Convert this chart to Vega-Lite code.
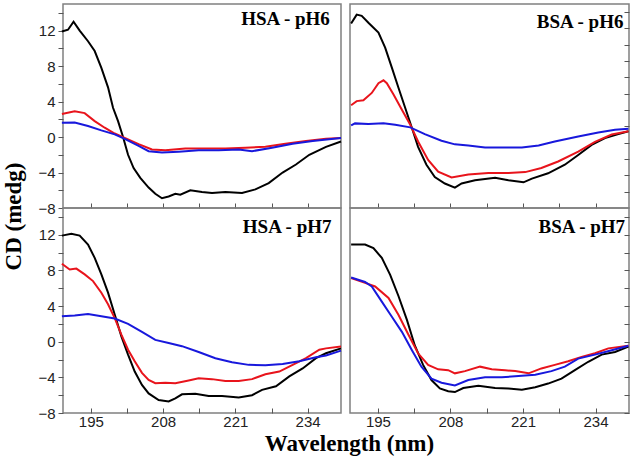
{
  "$schema": "https://vega.github.io/schema/vega-lite/v6.json",
  "padding": {"left": 2, "top": 3, "right": 6, "bottom": 1},
  "bounds": "flush",
  "columns": 2,
  "spacing": {"row": 0, "column": 9},
  "config": {
    "view": {"stroke": "#808080", "strokeWidth": 1.5},
    "axis": {"labelFont": "Liberation Sans", "labelFontSize": 15, "labelColor": "#222", "tickColor": "#555", "domain": false, "grid": false,
             "titleFont": "Liberation Serif", "titleFontSize": 23, "titleFontWeight": "bold", "titleColor": "#000"}
  },
  "datasets": {
    "tl": [
      {"s": "a", "w": 189.8, "cd": 11.9}, {"s": "a", "w": 190.9, "cd": 12.1}, {"s": "a", "w": 191.9, "cd": 13.0}, {"s": "a", "w": 193.0, "cd": 12.0},
      {"s": "a", "w": 194.5, "cd": 10.8}, {"s": "a", "w": 195.7, "cd": 9.7}, {"s": "a", "w": 196.9, "cd": 7.8}, {"s": "a", "w": 198.1, "cd": 5.6},
      {"s": "a", "w": 199.0, "cd": 3.3}, {"s": "a", "w": 199.9, "cd": 1.8}, {"s": "a", "w": 200.8, "cd": 0.0}, {"s": "a", "w": 201.7, "cd": -2.0},
      {"s": "a", "w": 202.7, "cd": -3.5}, {"s": "a", "w": 203.9, "cd": -4.6}, {"s": "a", "w": 205.4, "cd": -5.7}, {"s": "a", "w": 206.6, "cd": -6.4},
      {"s": "a", "w": 207.8, "cd": -6.9}, {"s": "a", "w": 209.0, "cd": -6.7}, {"s": "a", "w": 210.2, "cd": -6.4}, {"s": "a", "w": 211.1, "cd": -6.5},
      {"s": "a", "w": 212.9, "cd": -6.0}, {"s": "a", "w": 215.0, "cd": -6.2}, {"s": "a", "w": 216.8, "cd": -6.3}, {"s": "a", "w": 219.2, "cd": -6.2},
      {"s": "a", "w": 222.2, "cd": -6.3}, {"s": "a", "w": 224.6, "cd": -5.9}, {"s": "a", "w": 227.0, "cd": -5.2}, {"s": "a", "w": 229.5, "cd": -4.0},
      {"s": "a", "w": 231.9, "cd": -3.1}, {"s": "a", "w": 234.3, "cd": -2.0}, {"s": "a", "w": 237.3, "cd": -1.1}, {"s": "a", "w": 240.0, "cd": -0.5},
      {"s": "b", "w": 189.8, "cd": 2.6}, {"s": "b", "w": 192.1, "cd": 2.9}, {"s": "b", "w": 193.9, "cd": 2.7}, {"s": "b", "w": 195.7, "cd": 1.8},
      {"s": "b", "w": 197.5, "cd": 1.05}, {"s": "b", "w": 199.3, "cd": 0.4}, {"s": "b", "w": 201.1, "cd": -0.1}, {"s": "b", "w": 203.6, "cd": -0.8},
      {"s": "b", "w": 206.0, "cd": -1.4}, {"s": "b", "w": 208.4, "cd": -1.5}, {"s": "b", "w": 212.0, "cd": -1.3}, {"s": "b", "w": 215.6, "cd": -1.3},
      {"s": "b", "w": 219.2, "cd": -1.3}, {"s": "b", "w": 222.8, "cd": -1.2}, {"s": "b", "w": 226.4, "cd": -1.1}, {"s": "b", "w": 230.0, "cd": -0.75},
      {"s": "b", "w": 233.7, "cd": -0.45}, {"s": "b", "w": 237.3, "cd": -0.2}, {"s": "b", "w": 240.0, "cd": -0.1},
      {"s": "c", "w": 189.8, "cd": 1.6}, {"s": "c", "w": 192.1, "cd": 1.65}, {"s": "c", "w": 194.5, "cd": 1.25}, {"s": "c", "w": 196.9, "cd": 0.75},
      {"s": "c", "w": 199.3, "cd": 0.3}, {"s": "c", "w": 201.1, "cd": -0.2}, {"s": "c", "w": 203.6, "cd": -1.0}, {"s": "c", "w": 205.4, "cd": -1.6},
      {"s": "c", "w": 207.8, "cd": -1.75}, {"s": "c", "w": 210.8, "cd": -1.65}, {"s": "c", "w": 214.4, "cd": -1.5}, {"s": "c", "w": 218.0, "cd": -1.5},
      {"s": "c", "w": 221.6, "cd": -1.4}, {"s": "c", "w": 224.0, "cd": -1.6}, {"s": "c", "w": 227.6, "cd": -1.2}, {"s": "c", "w": 231.3, "cd": -0.75},
      {"s": "c", "w": 234.9, "cd": -0.45}, {"s": "c", "w": 240.0, "cd": -0.1}
    ],
    "tr": [
      {"s": "a", "w": 190.2, "cd": 12.6}, {"s": "a", "w": 191.2, "cd": 13.7}, {"s": "a", "w": 192.1, "cd": 13.55}, {"s": "a", "w": 193.3, "cd": 12.7},
      {"s": "a", "w": 195.1, "cd": 11.5}, {"s": "a", "w": 196.3, "cd": 9.65}, {"s": "a", "w": 197.5, "cd": 7.2}, {"s": "a", "w": 198.7, "cd": 4.7},
      {"s": "a", "w": 199.9, "cd": 2.25}, {"s": "a", "w": 201.1, "cd": -0.2}, {"s": "a", "w": 202.2, "cd": -2.5}, {"s": "a", "w": 203.7, "cd": -4.7},
      {"s": "a", "w": 205.2, "cd": -6.2}, {"s": "a", "w": 207.0, "cd": -7.0}, {"s": "a", "w": 208.8, "cd": -7.5}, {"s": "a", "w": 210.0, "cd": -7.0},
      {"s": "a", "w": 212.4, "cd": -6.6}, {"s": "a", "w": 216.0, "cd": -6.3}, {"s": "a", "w": 218.4, "cd": -6.6}, {"s": "a", "w": 221.1, "cd": -6.85},
      {"s": "a", "w": 222.6, "cd": -6.4}, {"s": "a", "w": 225.5, "cd": -5.75}, {"s": "a", "w": 228.5, "cd": -4.7}, {"s": "a", "w": 230.9, "cd": -3.5},
      {"s": "a", "w": 233.3, "cd": -2.26}, {"s": "a", "w": 235.7, "cd": -1.44}, {"s": "a", "w": 238.1, "cd": -0.95}, {"s": "a", "w": 239.9, "cd": -0.6},
      {"s": "b", "w": 190.2, "cd": 2.6}, {"s": "b", "w": 191.2, "cd": 3.1}, {"s": "b", "w": 192.4, "cd": 3.2}, {"s": "b", "w": 193.9, "cd": 4.1},
      {"s": "b", "w": 195.1, "cd": 5.3}, {"s": "b", "w": 196.0, "cd": 5.65}, {"s": "b", "w": 196.6, "cd": 5.3}, {"s": "b", "w": 197.8, "cd": 3.9},
      {"s": "b", "w": 199.3, "cd": 2.05}, {"s": "b", "w": 200.8, "cd": 0.2}, {"s": "b", "w": 202.2, "cd": -1.85}, {"s": "b", "w": 204.0, "cd": -4.1},
      {"s": "b", "w": 205.8, "cd": -5.55}, {"s": "b", "w": 208.2, "cd": -6.25}, {"s": "b", "w": 211.2, "cd": -5.9}, {"s": "b", "w": 214.8, "cd": -5.7},
      {"s": "b", "w": 218.4, "cd": -5.7}, {"s": "b", "w": 221.4, "cd": -5.6}, {"s": "b", "w": 224.3, "cd": -5.1}, {"s": "b", "w": 227.3, "cd": -4.3},
      {"s": "b", "w": 230.9, "cd": -3.1}, {"s": "b", "w": 233.9, "cd": -1.9}, {"s": "b", "w": 236.9, "cd": -1.0}, {"s": "b", "w": 239.9, "cd": -0.6},
      {"s": "c", "w": 190.2, "cd": 0.12}, {"s": "c", "w": 190.9, "cd": 0.37}, {"s": "c", "w": 193.3, "cd": 0.3}, {"s": "c", "w": 196.0, "cd": 0.4},
      {"s": "c", "w": 198.1, "cd": 0.2}, {"s": "c", "w": 200.8, "cd": -0.12}, {"s": "c", "w": 203.4, "cd": -0.95}, {"s": "c", "w": 206.4, "cd": -1.75},
      {"s": "c", "w": 208.8, "cd": -2.2}, {"s": "c", "w": 211.2, "cd": -2.35}, {"s": "c", "w": 214.2, "cd": -2.6}, {"s": "c", "w": 217.2, "cd": -2.6},
      {"s": "c", "w": 220.8, "cd": -2.6}, {"s": "c", "w": 223.8, "cd": -2.35}, {"s": "c", "w": 226.7, "cd": -1.85}, {"s": "c", "w": 230.9, "cd": -1.25},
      {"s": "c", "w": 234.5, "cd": -0.75}, {"s": "c", "w": 237.5, "cd": -0.4}, {"s": "c", "w": 239.9, "cd": -0.3}
    ],
    "bl": [
      {"s": "a", "w": 189.8, "cd": 11.9}, {"s": "a", "w": 191.5, "cd": 12.1}, {"s": "a", "w": 193.0, "cd": 11.9}, {"s": "a", "w": 194.5, "cd": 10.9},
      {"s": "a", "w": 195.7, "cd": 9.4}, {"s": "a", "w": 196.9, "cd": 7.55}, {"s": "a", "w": 198.1, "cd": 5.5}, {"s": "a", "w": 199.3, "cd": 3.05},
      {"s": "a", "w": 200.5, "cd": 0.6}, {"s": "a", "w": 201.7, "cd": -1.45}, {"s": "a", "w": 202.9, "cd": -3.35}, {"s": "a", "w": 204.2, "cd": -4.85},
      {"s": "a", "w": 205.4, "cd": -5.8}, {"s": "a", "w": 207.2, "cd": -6.55}, {"s": "a", "w": 209.0, "cd": -6.7}, {"s": "a", "w": 210.2, "cd": -6.35},
      {"s": "a", "w": 211.4, "cd": -5.9}, {"s": "a", "w": 213.8, "cd": -5.85}, {"s": "a", "w": 216.2, "cd": -6.1}, {"s": "a", "w": 218.6, "cd": -6.1},
      {"s": "a", "w": 221.6, "cd": -6.25}, {"s": "a", "w": 224.0, "cd": -6.0}, {"s": "a", "w": 225.8, "cd": -5.4}, {"s": "a", "w": 228.3, "cd": -5.0},
      {"s": "a", "w": 230.7, "cd": -3.9}, {"s": "a", "w": 233.1, "cd": -3.0}, {"s": "a", "w": 235.5, "cd": -1.85}, {"s": "a", "w": 237.3, "cd": -1.3},
      {"s": "a", "w": 240.0, "cd": -0.75},
      {"s": "b", "w": 189.8, "cd": 8.75}, {"s": "b", "w": 191.2, "cd": 8.1}, {"s": "b", "w": 192.4, "cd": 8.2}, {"s": "b", "w": 193.9, "cd": 7.55},
      {"s": "b", "w": 195.4, "cd": 6.8}, {"s": "b", "w": 196.9, "cd": 5.5}, {"s": "b", "w": 198.1, "cd": 4.2}, {"s": "b", "w": 199.3, "cd": 2.65},
      {"s": "b", "w": 200.5, "cd": 0.8}, {"s": "b", "w": 201.7, "cd": -0.9}, {"s": "b", "w": 202.9, "cd": -2.2}, {"s": "b", "w": 204.2, "cd": -3.5},
      {"s": "b", "w": 205.4, "cd": -4.3}, {"s": "b", "w": 206.6, "cd": -4.65}, {"s": "b", "w": 208.4, "cd": -4.6}, {"s": "b", "w": 210.2, "cd": -4.65},
      {"s": "b", "w": 212.6, "cd": -4.35}, {"s": "b", "w": 214.4, "cd": -4.1}, {"s": "b", "w": 216.8, "cd": -4.2}, {"s": "b", "w": 219.2, "cd": -4.4},
      {"s": "b", "w": 221.6, "cd": -4.4}, {"s": "b", "w": 224.0, "cd": -4.2}, {"s": "b", "w": 226.4, "cd": -3.65}, {"s": "b", "w": 228.9, "cd": -3.35},
      {"s": "b", "w": 231.3, "cd": -2.6}, {"s": "b", "w": 233.7, "cd": -1.85}, {"s": "b", "w": 236.1, "cd": -0.9}, {"s": "b", "w": 237.3, "cd": -0.75},
      {"s": "b", "w": 240.0, "cd": -0.55},
      {"s": "c", "w": 189.8, "cd": 2.85}, {"s": "c", "w": 192.1, "cd": 2.95}, {"s": "c", "w": 194.5, "cd": 3.1}, {"s": "c", "w": 196.9, "cd": 2.85},
      {"s": "c", "w": 199.3, "cd": 2.6}, {"s": "c", "w": 201.7, "cd": 2.0}, {"s": "c", "w": 204.2, "cd": 1.1}, {"s": "c", "w": 206.6, "cd": 0.2},
      {"s": "c", "w": 209.0, "cd": -0.15}, {"s": "c", "w": 211.4, "cd": -0.5}, {"s": "c", "w": 214.4, "cd": -1.15}, {"s": "c", "w": 217.4, "cd": -1.85},
      {"s": "c", "w": 220.4, "cd": -2.3}, {"s": "c", "w": 223.4, "cd": -2.6}, {"s": "c", "w": 226.4, "cd": -2.65}, {"s": "c", "w": 229.5, "cd": -2.5},
      {"s": "c", "w": 232.5, "cd": -2.2}, {"s": "c", "w": 235.5, "cd": -1.75}, {"s": "c", "w": 237.3, "cd": -1.55}, {"s": "c", "w": 240.0, "cd": -1.0}
    ],
    "br": [
      {"s": "a", "w": 190.2, "cd": 10.9}, {"s": "a", "w": 192.7, "cd": 10.9}, {"s": "a", "w": 194.2, "cd": 10.5}, {"s": "a", "w": 195.7, "cd": 9.4},
      {"s": "a", "w": 197.2, "cd": 7.5}, {"s": "a", "w": 198.7, "cd": 5.1}, {"s": "a", "w": 200.2, "cd": 2.45}, {"s": "a", "w": 201.6, "cd": -0.4},
      {"s": "a", "w": 203.1, "cd": -2.6}, {"s": "a", "w": 204.6, "cd": -4.3}, {"s": "a", "w": 206.1, "cd": -5.25}, {"s": "a", "w": 207.6, "cd": -5.55},
      {"s": "a", "w": 208.8, "cd": -5.65}, {"s": "a", "w": 210.3, "cd": -5.2}, {"s": "a", "w": 213.0, "cd": -4.95}, {"s": "a", "w": 216.0, "cd": -5.2},
      {"s": "a", "w": 218.4, "cd": -5.25}, {"s": "a", "w": 220.8, "cd": -5.4}, {"s": "a", "w": 223.2, "cd": -5.1}, {"s": "a", "w": 225.5, "cd": -4.7},
      {"s": "a", "w": 227.9, "cd": -4.15}, {"s": "a", "w": 230.3, "cd": -3.2}, {"s": "a", "w": 232.7, "cd": -2.25}, {"s": "a", "w": 235.1, "cd": -1.45},
      {"s": "a", "w": 237.5, "cd": -1.15}, {"s": "a", "w": 239.9, "cd": -0.55},
      {"s": "b", "w": 190.2, "cd": 7.15}, {"s": "b", "w": 192.7, "cd": 6.6}, {"s": "b", "w": 194.5, "cd": 6.2}, {"s": "b", "w": 196.9, "cd": 4.9},
      {"s": "b", "w": 198.7, "cd": 3.0}, {"s": "b", "w": 200.5, "cd": 0.75}, {"s": "b", "w": 202.2, "cd": -1.3}, {"s": "b", "w": 204.0, "cd": -2.6},
      {"s": "b", "w": 205.8, "cd": -3.1}, {"s": "b", "w": 207.6, "cd": -3.2}, {"s": "b", "w": 208.8, "cd": -3.55}, {"s": "b", "w": 210.6, "cd": -3.3},
      {"s": "b", "w": 213.3, "cd": -2.8}, {"s": "b", "w": 215.4, "cd": -3.1}, {"s": "b", "w": 217.8, "cd": -3.2}, {"s": "b", "w": 219.6, "cd": -3.3},
      {"s": "b", "w": 222.0, "cd": -3.55}, {"s": "b", "w": 224.3, "cd": -3.0}, {"s": "b", "w": 226.7, "cd": -2.6}, {"s": "b", "w": 229.1, "cd": -2.2},
      {"s": "b", "w": 231.5, "cd": -1.7}, {"s": "b", "w": 233.9, "cd": -1.3}, {"s": "b", "w": 236.3, "cd": -0.75}, {"s": "b", "w": 239.9, "cd": -0.45},
      {"s": "c", "w": 190.2, "cd": 7.2}, {"s": "c", "w": 192.7, "cd": 6.7}, {"s": "c", "w": 193.9, "cd": 6.2}, {"s": "c", "w": 195.7, "cd": 4.5},
      {"s": "c", "w": 197.5, "cd": 2.8}, {"s": "c", "w": 199.3, "cd": 1.1}, {"s": "c", "w": 201.1, "cd": -0.95}, {"s": "c", "w": 202.8, "cd": -2.8},
      {"s": "c", "w": 204.6, "cd": -4.15}, {"s": "c", "w": 206.4, "cd": -4.6}, {"s": "c", "w": 208.8, "cd": -4.9}, {"s": "c", "w": 211.2, "cd": -4.3},
      {"s": "c", "w": 214.2, "cd": -4.0}, {"s": "c", "w": 217.2, "cd": -4.0}, {"s": "c", "w": 220.2, "cd": -3.85}, {"s": "c", "w": 223.2, "cd": -3.7},
      {"s": "c", "w": 226.1, "cd": -3.3}, {"s": "c", "w": 228.5, "cd": -2.8}, {"s": "c", "w": 230.9, "cd": -1.9}, {"s": "c", "w": 233.9, "cd": -1.45},
      {"s": "c", "w": 236.9, "cd": -0.95}, {"s": "c", "w": 239.9, "cd": -0.45}
    ],
    "labels": [
      {"p": "tl", "t": "HSA - pH6", "w": 238.0, "cd": 12.6},
      {"p": "tr", "t": "BSA - pH6", "w": 239.0, "cd": 12.1},
      {"p": "bl", "t": "HSA - pH7", "w": 238.3, "cd": 12.25},
      {"p": "br", "t": "BSA - pH7", "w": 239.3, "cd": 12.25}
    ]
  },
  "concat": [
    {
      "width": 278, "height": 204,
      "encoding": {
        "x": {"field": "w", "type": "quantitative", "scale": {"domain": [190, 240], "nice": false, "zero": false}, "axis": {"title": null, "values": [195, 201.5, 208, 214.5, 221, 227.5, 234], "labels": false, "tickSize": -5}},
        "y": {"field": "cd", "type": "quantitative", "scale": {"domain": [-8, 15], "nice": false, "zero": false}, "axis": {"title": null, "values": [-8, -6, -4, -2, 0, 2, 4, 6, 8, 10, 12, 14], "labelExpr": "datum.value % 4 === 0 ? datum.label : ''", "tickSize": 5, "labelPadding": 3}}
      },
      "layer": [
        {"data": {"values": [{"z": 0}]}, "mark": {"type": "rule", "color": "#666", "strokeWidth": 1}, "encoding": {"x": null, "y": {"datum": 0}}},
        {"data": {"name": "tl"}, "mark": {"type": "line", "strokeWidth": 2},
         "encoding": {"color": {"field": "s", "type": "nominal", "scale": {"domain": ["a", "b", "c"], "range": ["#000000", "#e8141c", "#1818dc"]}, "legend": null}}},
        {"data": {"name": "labels"}, "transform": [{"filter": "datum.p === 'tl'"}], "mark": {"type": "text", "align": "right", "baseline": "alphabetic", "font": "Liberation Serif", "fontSize": 19, "fontWeight": "bold", "color": "#000"},
         "encoding": {"text": {"field": "t"}}}
      ]
    },
    {
      "width": 279, "height": 204,
      "encoding": {
        "x": {"field": "w", "type": "quantitative", "scale": {"domain": [190, 240], "nice": false, "zero": false}, "axis": {"title": null, "values": [195, 201.5, 208, 214.5, 221, 227.5, 234], "labels": false, "tickSize": -5}},
        "y": {"field": "cd", "type": "quantitative", "scale": {"domain": [-10, 15], "nice": false, "zero": false}, "axis": {"title": null, "orient": "right", "values": [-8, -6, -4, -2, 0, 2, 4, 6, 8, 10, 12, 14], "labels": false, "tickSize": -5}}
      },
      "layer": [
        {"data": {"values": [{"z": 0}]}, "mark": {"type": "rule", "color": "#333", "strokeWidth": 1}, "encoding": {"x": null, "y": {"datum": 0}}},
        {"data": {"name": "tr"}, "mark": {"type": "line", "strokeWidth": 2},
         "encoding": {"color": {"field": "s", "type": "nominal", "scale": {"domain": ["a", "b", "c"], "range": ["#000000", "#e8141c", "#1818dc"]}, "legend": null}}},
        {"data": {"name": "labels"}, "transform": [{"filter": "datum.p === 'tr'"}], "mark": {"type": "text", "align": "right", "baseline": "alphabetic", "font": "Liberation Serif", "fontSize": 19, "fontWeight": "bold", "color": "#000"},
         "encoding": {"text": {"field": "t"}}}
      ]
    },
    {
      "width": 278, "height": 205,
      "encoding": {
        "x": {"field": "w", "type": "quantitative", "scale": {"domain": [190, 240], "nice": false, "zero": false}, "axis": {"title": "Wavelength (nm)", "titleX": 286, "titlePadding": 3, "values": [195, 201.5, 208, 214.5, 221, 227.5, 234], "labelExpr": "datum.value % 13 === 0 ? datum.label : ''", "tickSize": -5, "labelPadding": 6}},
        "y": {"field": "cd", "type": "quantitative", "scale": {"domain": [-8, 15], "nice": false, "zero": false}, "axis": {"title": "CD (medg)", "titleY": 8, "titlePadding": 12, "values": [-8, -6, -4, -2, 0, 2, 4, 6, 8, 10, 12, 14], "labelExpr": "datum.value % 4 === 0 ? datum.label : ''", "tickSize": 5, "labelPadding": 3}}
      },
      "layer": [
        {"data": {"values": [{"z": 0}]}, "mark": {"type": "rule", "color": "#666", "strokeWidth": 1}, "encoding": {"x": null, "y": {"datum": 0}}},
        {"data": {"name": "bl"}, "mark": {"type": "line", "strokeWidth": 2},
         "encoding": {"color": {"field": "s", "type": "nominal", "scale": {"domain": ["a", "b", "c"], "range": ["#000000", "#e8141c", "#1818dc"]}, "legend": null}}},
        {"data": {"name": "labels"}, "transform": [{"filter": "datum.p === 'bl'"}], "mark": {"type": "text", "align": "right", "baseline": "alphabetic", "font": "Liberation Serif", "fontSize": 19, "fontWeight": "bold", "color": "#000"},
         "encoding": {"text": {"field": "t"}}}
      ]
    },
    {
      "width": 279, "height": 205,
      "encoding": {
        "x": {"field": "w", "type": "quantitative", "scale": {"domain": [190, 240], "nice": false, "zero": false}, "axis": {"title": null, "values": [195, 201.5, 208, 214.5, 221, 227.5, 234], "labelExpr": "datum.value % 13 === 0 ? datum.label : ''", "tickSize": -5, "labelPadding": 6}},
        "y": {"field": "cd", "type": "quantitative", "scale": {"domain": [-8, 15], "nice": false, "zero": false}, "axis": {"title": null, "orient": "right", "values": [-8, -6, -4, -2, 0, 2, 4, 6, 8, 10, 12, 14], "labels": false, "tickSize": -5}}
      },
      "layer": [
        {"data": {"values": [{"z": 0}]}, "mark": {"type": "rule", "color": "#666", "strokeWidth": 1}, "encoding": {"x": null, "y": {"datum": 0}}},
        {"data": {"name": "br"}, "mark": {"type": "line", "strokeWidth": 2},
         "encoding": {"color": {"field": "s", "type": "nominal", "scale": {"domain": ["a", "b", "c"], "range": ["#000000", "#e8141c", "#1818dc"]}, "legend": null}}},
        {"data": {"name": "labels"}, "transform": [{"filter": "datum.p === 'br'"}], "mark": {"type": "text", "align": "right", "baseline": "alphabetic", "font": "Liberation Serif", "fontSize": 19, "fontWeight": "bold", "color": "#000"},
         "encoding": {"text": {"field": "t"}}}
      ]
    }
  ]
}
